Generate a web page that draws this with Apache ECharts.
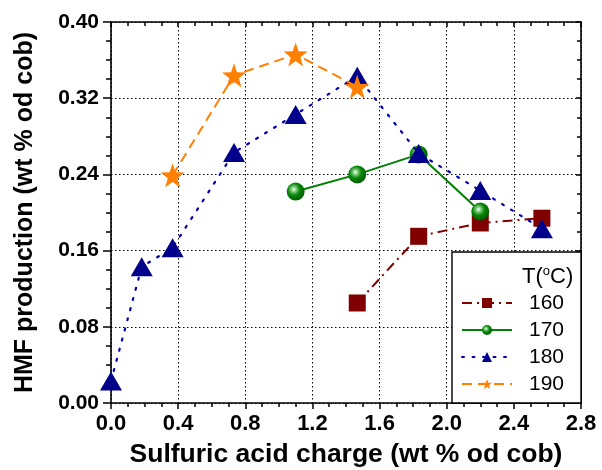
<!DOCTYPE html>
<html><head><meta charset="utf-8">
<script src="https://cdn.jsdelivr.net/npm/echarts@6/dist/echarts.min.js"></script>
<style>html,body{margin:0;padding:0;background:#fff}#c{width:602px;height:470px}</style>
</head><body><div id="c"></div>
<script>
const seriesNames = ['160', '170', '180', '190'];
const x160 = [1.467, 1.833, 2.2, 2.567];
const y160 = [0.105, 0.175, 0.189, 0.194];
const x170 = [1.1, 1.467, 1.833, 2.2];
const y170 = [0.222, 0.240, 0.261, 0.201];
const x180 = [0, 0.183, 0.367, 0.733, 1.1, 1.467, 1.833, 2.2, 2.567];
const y180 = [0.023, 0.143, 0.163, 0.263, 0.303, 0.343, 0.262, 0.223, 0.183];
const x190 = [0.367, 0.733, 1.1, 1.467];
const y190 = [0.239, 0.344, 0.366, 0.332];
const xTicks = [0.0, 0.4, 0.8, 1.2, 1.6, 2.0, 2.4, 2.8];
const yTicks = [0.00, 0.08, 0.16, 0.24, 0.32, 0.40];

const pairs = (xs, ys) => xs.map((x, i) => [x, ys[i]]);
const FONT = '"Liberation Sans", Arial, Helvetica, sans-serif';
const chart = echarts.init(document.getElementById('c'), null, {renderer: 'canvas'});

const axisCommon = {
  type: 'value',
  axisLine: {show: true, onZero: false, lineStyle: {color: '#000', width: 1.6}},
  splitLine: {show: false},
  minorSplitLine: {show: false}
};

const option = {
  backgroundColor: '#fff',
  animation: false,
  grid: {left: 111, right: 21, top: 22, bottom: 67, containLabel: false, outerBoundsMode: 'none'},
  title: {
    text: '{a|T(}{s|o}{a|C)}',
    left: 517, top: 260, z: 20,
    textStyle: {
      fontWeight: 'normal',
      rich: {
        a: {fontFamily: FONT, fontSize: 22, fontWeight: 'normal', color: '#000', verticalAlign: 'bottom'},
        s: {fontFamily: FONT, fontSize: 13, fontWeight: 'normal', color: '#000', verticalAlign: 'top', padding: [0, 0, 10, 0]}
      }
    }
  },
  graphic: [{
    type: 'rect', z: 5,
    shape: {x: 452, y: 252, width: 129, height: 151},
    style: {fill: '#fff', stroke: '#000', lineWidth: 1.4}
  }],
  legend: {
    orient: 'vertical', left: 452, top: 282, z: 10,
    padding: [10, 10, 10, 9],
    itemWidth: 50, itemHeight: 12.5, itemGap: 5,
    data: seriesNames,
    textStyle: {fontFamily: FONT, fontSize: 21, color: '#000', lineHeight: 22, padding: [0, 0, 0, 12]}
  },
  xAxis: [
    Object.assign({}, axisCommon, {
      position: 'bottom', min: 0, max: 2.8, interval: 0.4,
      axisTick: {show: true, inside: false, length: 6, lineStyle: {color: '#000', width: 1.5}},
      minorTick: {show: true, splitNumber: 4, length: 4, lineStyle: {color: '#000', width: 1.5}},
      axisLabel: {show: true, margin: 10, fontFamily: FONT, fontSize: 22, fontWeight: 'bold', color: '#000',
        formatter: v => { const t = xTicks.find(k => Math.abs(k - v) < 1e-6); return t === undefined ? '' : t.toFixed(1); }},
      splitLine: {show: true, lineStyle: {color: '#000', type: [1.5, 2.5], width: 1}},
      name: 'Sulfuric acid charge (wt % od cob)', nameLocation: 'middle', nameGap: 38,
      nameTextStyle: {fontFamily: FONT, fontSize: 26.5, fontWeight: 'bold', color: '#000'}
    }),
    Object.assign({}, axisCommon, {
      position: 'top', min: 0, max: 2.8, interval: 0.4,
      axisTick: {show: true, inside: true, length: 5, lineStyle: {color: '#000', width: 1.5}},
      minorTick: {show: true, splitNumber: 4, length: 4, lineStyle: {color: '#000', width: 1.5}},
      axisLabel: {show: false}
    })
  ],
  yAxis: [
    Object.assign({}, axisCommon, {
      position: 'left', min: 0, max: 0.4, interval: 0.08,
      axisTick: {show: true, inside: false, length: 8, lineStyle: {color: '#000', width: 1.5}},
      minorTick: {show: true, splitNumber: 4, length: 5, lineStyle: {color: '#000', width: 1.5}},
      axisLabel: {show: true, margin: 12, fontFamily: FONT, fontSize: 21, fontWeight: 'bold', color: '#000',
        formatter: v => { const t = yTicks.find(k => Math.abs(k - v) < 1e-6); return t === undefined ? '' : t.toFixed(2); }},
      splitLine: {show: true, lineStyle: {color: '#000', type: [1.5, 2.5], width: 1}},
      name: 'HMF production (wt % od cob)', nameLocation: 'middle', nameGap: 73,
      nameTextStyle: {fontFamily: FONT, fontSize: 25, fontWeight: 'bold', color: '#000'}
    }),
    Object.assign({}, axisCommon, {
      position: 'right', min: 0, max: 0.4, interval: 0.08,
      axisTick: {show: true, inside: true, length: 5, lineStyle: {color: '#000', width: 1.5}},
      minorTick: {show: true, splitNumber: 4, length: 4, lineStyle: {color: '#000', width: 1.5}},
      axisLabel: {show: false}
    })
  ],
  series: [
    {
      name: seriesNames[0], type: 'line', data: pairs(x160, y160),
      symbol: 'rect', symbolSize: 17, z: 3,
      itemStyle: {color: '#800000'},
      lineStyle: {color: '#800000', width: 2, type: [10, 5, 2, 5]}
    },
    {
      name: seriesNames[1], type: 'line', data: pairs(x170, y170),
      symbol: 'circle', symbolSize: 18, z: 3,
      itemStyle: {
        color: {type: 'radial', x: 0.4, y: 0.38, r: 0.6, global: false, colorStops: [
          {offset: 0, color: '#ffffff'}, {offset: 0.22, color: '#7fcf7f'}, {offset: 0.55, color: '#0a870a'}, {offset: 1, color: '#006000'}]},
        borderWidth: 0
      },
      lineStyle: {color: '#008000', width: 2, type: 'solid'}
    },
    {
      name: seriesNames[2], type: 'line', data: pairs(x180, y180),
      symbol: 'triangle', symbolSize: [22, 19], z: 4,
      itemStyle: {color: '#00008b'},
      lineStyle: {color: '#0000b0', width: 2.2, type: [2, 8.5], cap: 'round'}
    },
    {
      name: seriesNames[3], type: 'line', data: pairs(x190, y190),
      symbol: 'path://M0,-10 L2.35,-3.24 L9.51,-3.09 L3.8,1.24 L5.88,8.09 L0,4 L-5.88,8.09 L-3.8,1.24 L-9.51,-3.09 L-2.35,-3.24 Z',
      symbolSize: 24, z: 5,
      itemStyle: {color: '#ff7f00'},
      lineStyle: {color: '#ff7f00', width: 2, type: [10, 6]}
    }
  ]
};
chart.setOption(option);
</script>
</body></html>
